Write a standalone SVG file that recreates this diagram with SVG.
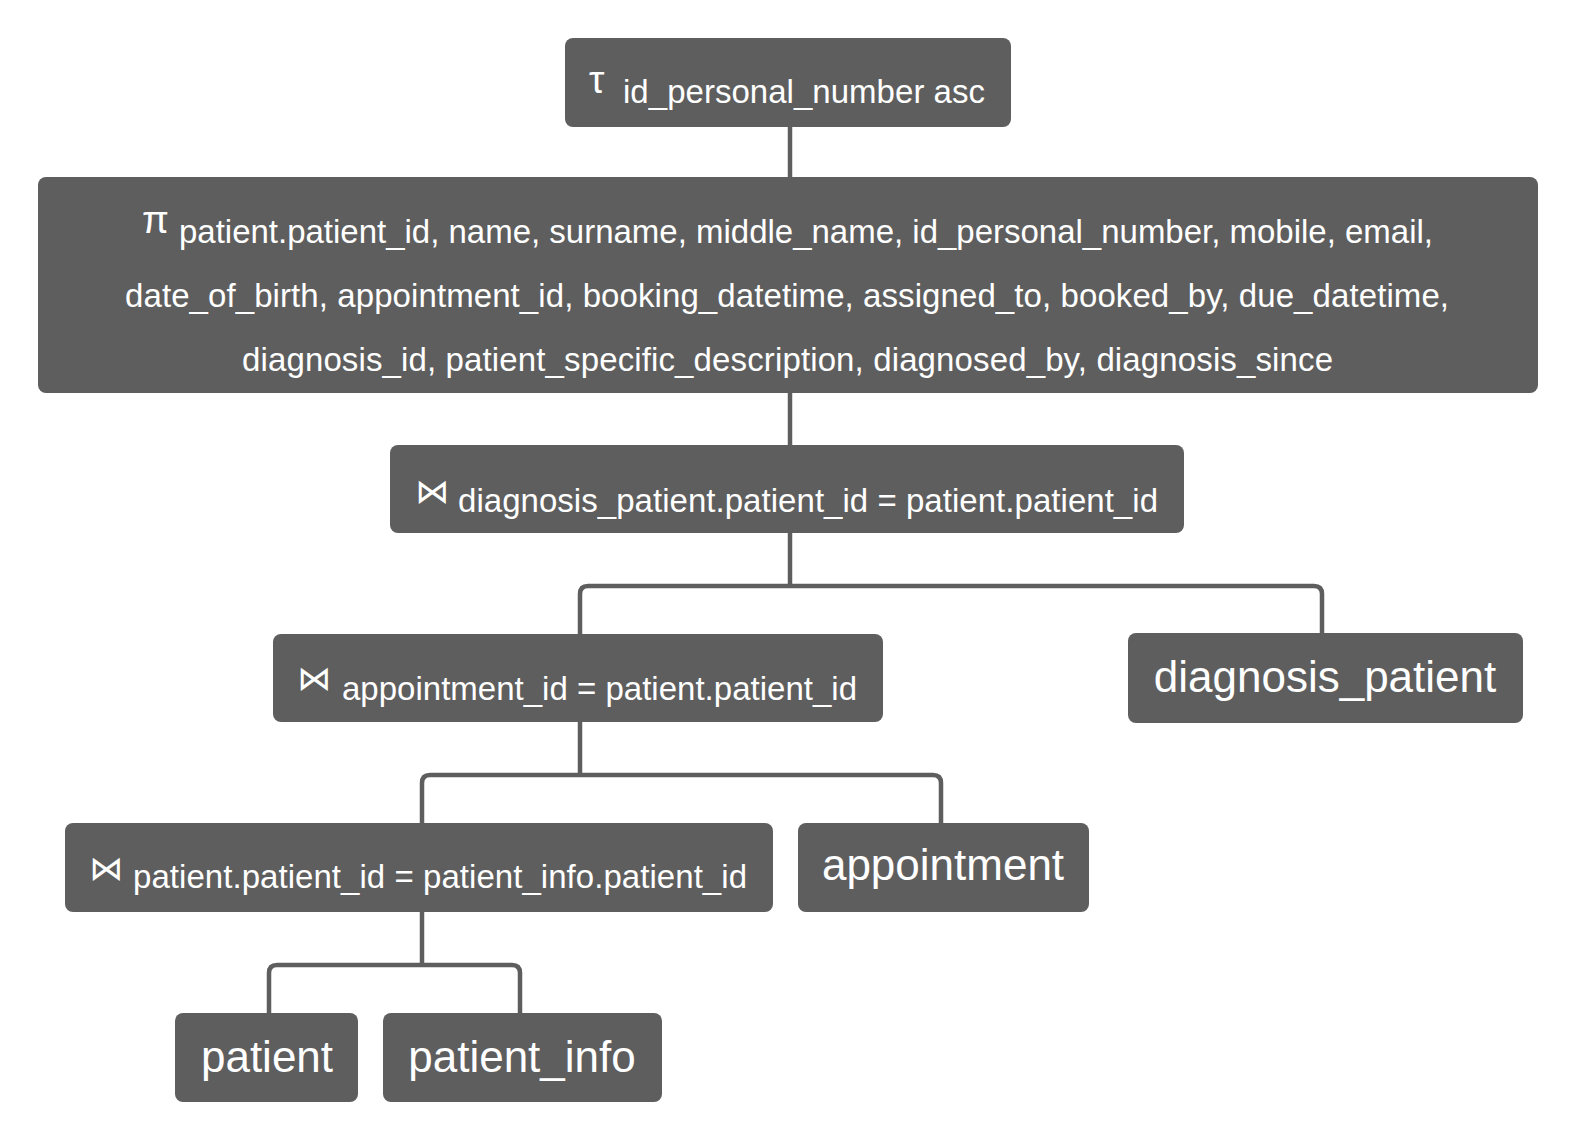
<svg xmlns="http://www.w3.org/2000/svg" width="1587" height="1138" viewBox="0 0 1587 1138">
<style>
.box{fill:#5e5e5e}
.t{fill:#ffffff;font-family:"Liberation Sans",Arial,sans-serif;font-size:33px}
.tn{fill:#ffffff;font-family:"Liberation Sans",Arial,sans-serif;font-size:44px;text-anchor:middle}
.sym{fill:#ffffff;font-family:"DejaVu Sans",sans-serif;font-size:34px}
.gk{fill:#ffffff;font-family:"Liberation Sans",Arial,sans-serif;font-size:39px}
.c{fill:none;stroke:#5e5e5e;stroke-width:4.5}
</style>
<rect width="1587" height="1138" fill="#ffffff"/>
<g id="connectors">
<path class="c" d="M790 127 V177"/>
<path class="c" d="M790 393 V445"/>
<path class="c" d="M790 533 V586"/>
<path class="c" d="M580 634 V594 Q580 586 588 586 H1314 Q1322 586 1322 594 V633"/>
<path class="c" d="M580 722 V775"/>
<path class="c" d="M422 823 V783 Q422 775 430 775 H933 Q941 775 941 783 V823"/>
<path class="c" d="M422 912 V965"/>
<path class="c" d="M269 1013 V973 Q269 965 277 965 H512 Q520 965 520 973 V1013"/>
</g>
<g id="sort">
<rect class="box" x="565" y="38" width="446" height="89" rx="8"/>
<text class="gk" x="589" y="93">τ</text>
<text class="t" x="623" y="103" textLength="362" lengthAdjust="spacing">id_personal_number asc</text>
</g>
<g id="projection">
<rect class="box" x="38" y="177" width="1500" height="216" rx="8"/>
<text class="gk" x="142" y="233">π</text>
<text class="t" x="179" y="243" textLength="1254" lengthAdjust="spacing">patient.patient_id, name, surname, middle_name, id_personal_number, mobile, email,</text>
<text class="t" x="125" y="307" textLength="1324" lengthAdjust="spacing">date_of_birth, appointment_id, booking_datetime, assigned_to, booked_by, due_datetime,</text>
<text class="t" x="242" y="371" textLength="1091" lengthAdjust="spacing">diagnosis_id, patient_specific_description, diagnosed_by, diagnosis_since</text>
</g>
<g id="join-diagnosis">
<rect class="box" x="390" y="445" width="794" height="88" rx="8"/>
<text class="sym" x="415" y="503">⋈</text>
<text class="t" x="458" y="512" textLength="700" lengthAdjust="spacing">diagnosis_patient.patient_id = patient.patient_id</text>
</g>
<g id="join-appointment">
<rect class="box" x="273" y="634" width="610" height="88" rx="8"/>
<text class="sym" x="297" y="690">⋈</text>
<text class="t" x="342" y="700" textLength="515" lengthAdjust="spacing">appointment_id = patient.patient_id</text>
</g>
<g id="diagnosis_patient">
<rect class="box" x="1128" y="633" width="395" height="90" rx="8"/>
<text class="tn" x="1325" y="692">diagnosis_patient</text>
</g>
<g id="join-patient">
<rect class="box" x="65" y="823" width="708" height="89" rx="8"/>
<text class="sym" x="89" y="880">⋈</text>
<text class="t" x="133" y="888" textLength="614" lengthAdjust="spacing">patient.patient_id = patient_info.patient_id</text>
</g>
<g id="appointment">
<rect class="box" x="798" y="823" width="291" height="89" rx="8"/>
<text class="tn" x="943" y="880">appointment</text>
</g>
<g id="patient">
<rect class="box" x="175" y="1013" width="183" height="89" rx="8"/>
<text class="tn" x="267" y="1072">patient</text>
</g>
<g id="patient_info">
<rect class="box" x="383" y="1013" width="279" height="89" rx="8"/>
<text class="tn" x="522" y="1072">patient_info</text>
</g>
</svg>
